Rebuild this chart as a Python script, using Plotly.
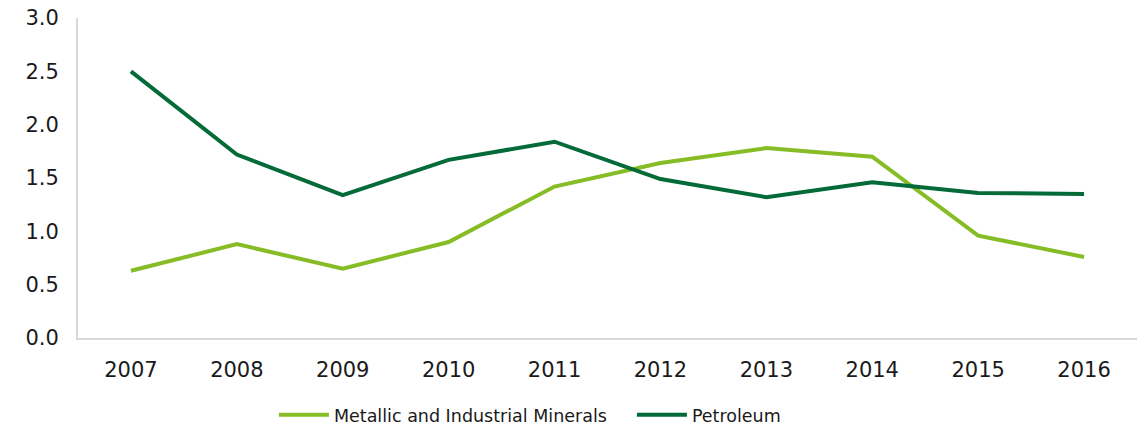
import plotly.graph_objects as go

years = ["2007", "2008", "2009", "2010", "2011", "2012", "2013", "2014", "2015", "2016"]
metallic = [0.63, 0.88, 0.65, 0.90, 1.42, 1.64, 1.78, 1.70, 0.96, 0.76]
petroleum = [2.50, 1.72, 1.34, 1.67, 1.84, 1.49, 1.32, 1.46, 1.36, 1.35]
y_ticks = [0, 0.5, 1.0, 1.5, 2.0, 2.5, 3.0]

fig = go.Figure()
fig.add_trace(go.Scatter(x=years, y=metallic, mode="lines", name="Metallic and Industrial Minerals",
                         line=dict(color="#86BC25", width=4)))
fig.add_trace(go.Scatter(x=years, y=petroleum, mode="lines", name="Petroleum",
                         line=dict(color="#046A38", width=4)))

fig.update_layout(
    width=1145, height=426,
    margin=dict(l=78, r=8, t=18, b=88),
    paper_bgcolor="white", plot_bgcolor="white",
    font=dict(family="DejaVu Sans", size=21, color="#1a1a1a"),
    legend=dict(orientation="h", x=0.185, xanchor="left", yref="container", y=0.026,
                yanchor="middle", font=dict(size=17.5), entrywidth=293, itemwidth=50),
    xaxis=dict(type="category", range=[-0.5, 9.5], showline=True, linecolor="#d9d9d9",
               linewidth=2, showgrid=False, ticks="outside", ticklen=12,
               tickcolor="rgba(0,0,0,0)", automargin=False),
    yaxis=dict(range=[0, 3.0], tickvals=y_ticks, tickformat=".1f", showline=True,
               linecolor="#d9d9d9", linewidth=2, showgrid=False, zeroline=False,
               ticks="outside", ticklen=13, tickcolor="rgba(0,0,0,0)", automargin=False,
               ticklabeloverflow="allow"),
)

# drop the default 8px body margin so the figure sits at the page corner
fig.write_html("out.html", config={"displayModeBar": False},
               post_script="document.body.style.margin='0';")
